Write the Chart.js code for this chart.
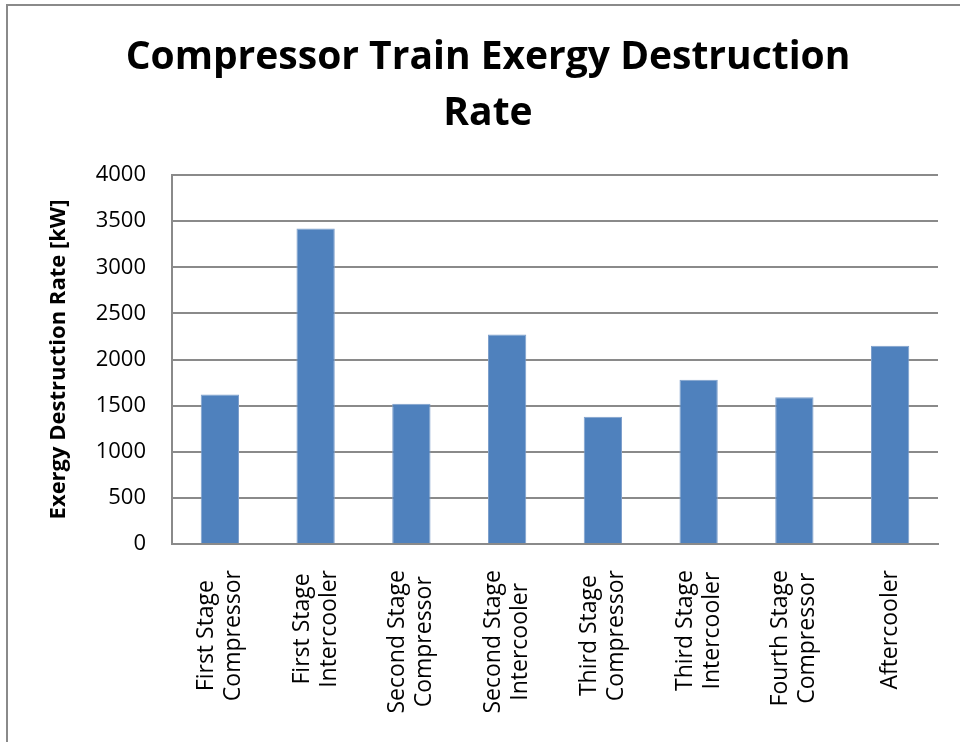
<!DOCTYPE html>
<html lang="en">
<head>
  <meta charset="UTF-8">
  <title>Compressor Train Exergy Destruction Rate</title>
  <style>
    html, body {
      margin: 0;
      padding: 0;
      background-color: #ffffff;
      overflow: hidden;
    }
    .frame {
      position: absolute;
      left: 6px;
      top: 4px;
      width: 960px;
      height: 760px;
      border-left: 2px solid #8a8a8a;
      border-top: 2px solid #8a8a8a;
    }
  </style>
</head>
<body>
  <div class="frame">
    <canvas id="chart" width="960" height="760"></canvas>
  </div>

  <script src="https://cdn.jsdelivr.net/npm/chart.js"></script>
  <script>
    // Data
    const categories = [
      ['First Stage', 'Compressor'],
      ['First Stage', 'Intercooler'],
      ['Second Stage', 'Compressor'],
      ['Second Stage', 'Intercooler'],
      ['Third Stage', 'Compressor'],
      ['Third Stage', 'Intercooler'],
      ['Fourth Stage', 'Compressor'],
      ['Aftercooler']
    ];
    const destructionRate = [1620, 3420, 1520, 2270, 1380, 1780, 1590, 2150];
    const yTicks = [0, 500, 1000, 1500, 2000, 2500, 3000, 3500, 4000];

    const gridColor = '#8a8a8a';
    const labelFont = "'Open Sans', 'Noto Sans', sans-serif";

    // Excel style rotated category labels: lines centred on each other,
    // block hanging from just below the axis
    const categoryLabels = {
      id: 'categoryLabels',
      afterDraw(chart) {
        const ctx = chart.ctx;
        const xScale = chart.scales.x;
        const top = chart.chartArea.bottom + 26;
        const lineGap = 27;
        ctx.save();
        ctx.font = '23px ' + labelFont;
        ctx.fillStyle = '#000';
        ctx.textAlign = 'center';
        ctx.textBaseline = 'middle';
        categories.forEach((lines, i) => {
          const x = xScale.getPixelForValue(i);
          const w = Math.max(...lines.map(l => ctx.measureText(l).width));
          ctx.save();
          ctx.translate(x, top);
          ctx.rotate(-Math.PI / 2);
          lines.forEach((line, j) => {
            const off = (j - (lines.length - 1) / 2) * lineGap;
            ctx.fillText(line, -w / 2, off);
          });
          ctx.restore();
        });
        ctx.restore();
      }
    };

    new Chart(document.getElementById('chart'), {
      type: 'bar',
      data: {
        labels: categories,
        datasets: [{
          label: 'Exergy Destruction Rate',
          data: destructionRate,
          backgroundColor: '#4f81bd',
          borderColor: '#7fa0cc',
          borderWidth: 1,
          barPercentage: 0.4,
          categoryPercentage: 1.0
        }]
      },
      options: {
        responsive: false,
        animation: false,
        layout: {
          padding: { left: 30, right: 30, top: 0, bottom: 0 }
        },
        plugins: {
          legend: { display: false },
          tooltip: { enabled: false },
          title: {
            display: true,
            text: ['Compressor Train Exergy Destruction', 'Rate'],
            color: '#000',
            font: {
              family: labelFont,
              size: 39,
              weight: 'bold',
              lineHeight: 56 / 39
            },
            padding: { top: 24, bottom: 33 }
          }
        },
        scales: {
          x: {
            afterFit(scale) { scale.height = 222; },
            ticks: { display: false },
            grid: { display: false, drawTicks: false },
            border: { display: true, color: gridColor, width: 2 }
          },
          y: {
            min: 0,
            max: 4000,
            afterFit(scale) { scale.width = 134; },
            afterBuildTicks(scale) {
              scale.ticks = yTicks.map(v => ({ value: v }));
            },
            ticks: {
              color: '#000',
              padding: 26,
              font: { family: labelFont, size: 22 },
              callback: v => String(v)
            },
            grid: { color: gridColor, lineWidth: 2, drawTicks: false },
            border: { display: true, color: gridColor, width: 2 },
            title: {
              display: true,
              text: 'Exergy Destruction Rate [kW]',
              color: '#000',
              font: { family: labelFont, size: 22, weight: 'bold', lineHeight: 1.2 },
              padding: { top: 8, bottom: 0 }
            }
          }
        }
      },
      plugins: [categoryLabels]
    });
  </script>
</body>
</html>
